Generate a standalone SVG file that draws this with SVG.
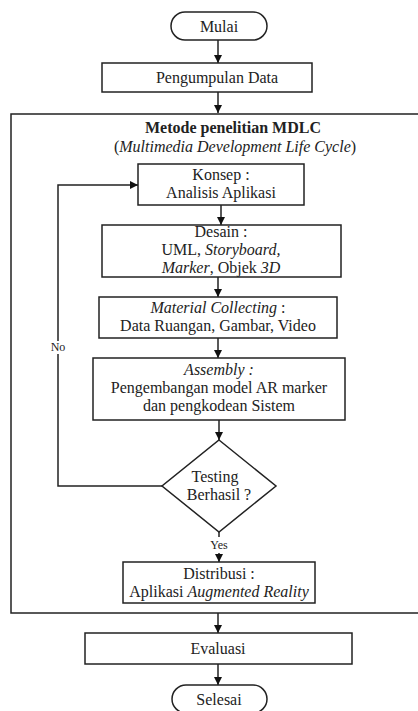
<svg xmlns="http://www.w3.org/2000/svg" width="418" height="711" viewBox="0 0 418 711">
<style>
.b{fill:#fff;stroke:#222;stroke-width:1.5}
.t{font-family:"Liberation Serif","Times New Roman",serif;font-size:16px;fill:#222;text-anchor:middle}
.s{font-family:"Liberation Serif","Times New Roman",serif;font-size:12px;fill:#222;text-anchor:middle}
.c{fill:none;stroke:#222;stroke-width:1.5}
</style>
<defs>
<marker id="a" viewBox="0 0 10 10" refX="10" refY="5" markerWidth="8" markerHeight="8" markerUnits="userSpaceOnUse" orient="auto"><path d="M0,0L10,5L0,10z" fill="#111"/></marker>
</defs>
<rect x="11" y="114" width="420" height="499" class="b"/>
<text class="t" x="233" y="133" font-weight="bold">Metode penelitian MDLC</text>
<text class="t" x="235" y="152">(<tspan font-style="italic">Multimedia Development Life Cycle</tspan>)</text>
<g id="connectors">
<path class="c" d="M218,40V63" marker-end="url(#a)"/>
<path class="c" d="M218,92V113" marker-end="url(#a)"/>
<path class="c" d="M221,205V225" marker-end="url(#a)"/>
<path class="c" d="M218,277V297" marker-end="url(#a)"/>
<path class="c" d="M218,338V358" marker-end="url(#a)"/>
<path class="c" d="M219,420V440" marker-end="url(#a)"/>
<path class="c" d="M162,486H58V354M58,341V185H138" marker-end="url(#a)"/>
<path class="c" d="M219,532V537M219,553V562" marker-end="url(#a)"/>
<path class="c" d="M218,613V633" marker-end="url(#a)"/>
<path class="c" d="M218,664V685" marker-end="url(#a)"/>
<text class="s" x="58" y="351">No</text>
<text class="s" x="219" y="549">Yes</text>
</g>
<g id="mulai"><rect x="171" y="12" width="96" height="28" rx="14" class="b"/><text class="t" x="219" y="32">Mulai</text></g>
<g id="pengumpulan"><rect x="102" y="63" width="210" height="29" class="b"/><text class="t" x="217" y="83">Pengumpulan Data</text></g>
<g id="konsep"><rect x="138" y="164" width="166" height="41" class="b"/><text class="t" x="221" y="180">Konsep :</text><text class="t" x="221" y="198">Analisis Aplikasi</text></g>
<g id="desain"><rect x="102" y="225" width="239" height="52" class="b"/><text class="t" x="221" y="237">Desain :</text><text class="t" x="221" y="255">UML, <tspan font-style="italic">Storyboard,</tspan></text><text class="t" x="221" y="273"><tspan font-style="italic">Marker</tspan>, Objek <tspan font-style="italic">3D</tspan></text></g>
<g id="material"><rect x="99" y="297" width="238" height="41" class="b"/><text class="t" x="218" y="313"><tspan font-style="italic">Material Collecting</tspan> :</text><text class="t" x="218" y="331">Data Ruangan, Gambar, Video</text></g>
<g id="assembly"><rect x="93" y="358" width="252" height="62" class="b"/><text class="t" x="219" y="375" font-style="italic">Assembly :</text><text class="t" x="219" y="393">Pengembangan model AR marker</text><text class="t" x="219" y="411">dan pengkodean Sistem</text></g>
<g id="testing"><path d="M219,440L276,486L219,532L162,486z" class="b"/><text class="t" x="215" y="482">Testing</text><text class="t" x="219" y="500">Berhasil ?</text></g>
<g id="distribusi"><rect x="123" y="562" width="192" height="41" class="b"/><text class="t" x="219" y="579">Distribusi :</text><text class="t" x="219" y="597">Aplikasi <tspan font-style="italic">Augmented Reality</tspan></text></g>
<g id="evaluasi"><rect x="85" y="633" width="267" height="31" class="b"/><text class="t" x="218" y="654">Evaluasi</text></g>
<g id="selesai"><rect x="172" y="685" width="95" height="28" rx="14" class="b"/><text class="t" x="219" y="705">Selesai</text></g>
</svg>
